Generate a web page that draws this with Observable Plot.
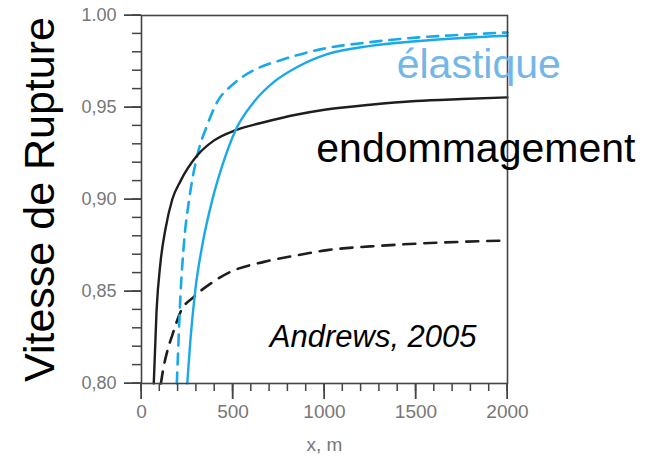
<!DOCTYPE html>
<html><head><meta charset="utf-8">
<script src="https://cdn.jsdelivr.net/npm/d3@7"></script>
<script src="https://cdn.jsdelivr.net/npm/@observablehq/plot@0.6"></script>
<style>
html,body{margin:0;padding:0;background:#fff;}
#chart{color:#444;}
#chart svg{font-family:'Liberation Sans', Arial, sans-serif;}
#chart svg g[aria-label="x-axis tick label"], #chart svg g[aria-label="y-axis tick label"]{fill:#777;}
</style>
</head><body><div id="chart"></div>
<script>
// Series: [x (m), rupture velocity]
const endoSolid = [[67,0.800],[82,0.839],[104,0.866],[131,0.884],[168,0.900],[213,0.910],[305,0.924],[395,0.932],[514,0.9377],[669,0.942],[851,0.9462],[1000,0.9488],[1250,0.9515],[1500,0.9535],[1750,0.9546],[2000,0.9555]];
const endoDashed = [[106,0.800],[120,0.8085],[140,0.8172],[168,0.8262],[213,0.8389],[286,0.8471],[377,0.8543],[487,0.8607],[669,0.8661],[851,0.8697],[1015,0.8725],[1250,0.8745],[1500,0.876],[1750,0.877],[2000,0.8777]];
const elasSolid = [[250,0.800],[268,0.8245],[295,0.8516],[332,0.875],[390,0.901],[440,0.918],[514,0.9377],[614,0.953],[724,0.9639],[851,0.972],[1015,0.979],[1250,0.9835],[1500,0.986],[1750,0.9878],[2000,0.989]];
const elasDashed = [[193,0.800],[197,0.810],[213,0.848],[231,0.875],[262,0.901],[305,0.924],[359,0.9404],[414,0.953],[505,0.963],[633,0.9712],[760,0.9757],[997,0.982],[1250,0.9855],[1500,0.988],[1750,0.9895],[2000,0.9908]];

const xMajor = [0, 500, 1000, 1500, 2000];
const xTickLabels = ["0", "500", "1000", "1500", "2000"];
const yMajor = [0.80, 0.85, 0.90, 0.95, 1.00];
const yTickLabels = ["0,80", "0,85", "0,90", "0,95", "1.00"];
const xMinor = d3.range(0, 2001, 100);
const yMinor = d3.range(80, 101, 1).map(d => d / 100);

const yTitle = "Vitesse de Rupture";
const xTitle = "x, m";
const labelElastique = "élastique";
const labelEndo = "endommagement";
const citation = "Andrews, 2005";

const blue = "#1aa9e8";
const black = "#1e1e1e";
const axisCol = "#444";
const tickText = "#777";

const chart = Plot.plot({
  width: 671, height: 458,
  marginLeft: 141, marginRight: 164, marginTop: 15, marginBottom: 75,
  x: {domain: [0, 2000]},
  y: {domain: [0.80, 1.00]},
  marks: [
    Plot.axisX({ticks: xMajor, tickSize: 16, tickPadding: 5, fontSize: 19,
      tickFormat: d => xTickLabels[xMajor.indexOf(d)], label: null}),
    Plot.axisY({ticks: yMajor, tickSize: 17, tickPadding: 8, fontSize: 18,
      tickFormat: d => yTickLabels[yMajor.indexOf(d)], label: null}),
    Plot.line(endoDashed, {x: d => d[0], y: d => d[1], stroke: black, strokeWidth: 2.6, strokeDasharray: "12,9", curve: "monotone-x"}),
    Plot.line(elasDashed, {x: d => d[0], y: d => d[1], stroke: blue, strokeWidth: 2.6, strokeDasharray: "11,8", curve: "monotone-x"}),
    Plot.line(endoSolid, {x: d => d[0], y: d => d[1], stroke: black, strokeWidth: 2.4, curve: "monotone-x"}),
    Plot.line(elasSolid, {x: d => d[0], y: d => d[1], stroke: blue, strokeWidth: 2.4, curve: "monotone-x"}),
    Plot.frame({stroke: axisCol, strokeWidth: 1.6}),
    Plot.text([labelElastique], {x: 1843, y: 0.9659, text: d => d, fontSize: 41, fill: "#74b6e8", textAnchor: "middle", lineAnchor: "bottom"}),
    Plot.text([labelEndo], {x: 1827, y: 0.9203, text: d => d, fontSize: 41, fill: "#000", textAnchor: "middle", lineAnchor: "bottom"}),
    Plot.text([citation], {x: 1266, y: 0.8199, text: d => d, fontSize: 31, fontStyle: "italic", fill: "#000", textAnchor: "middle", lineAnchor: "bottom"}),
    Plot.text([yTitle], {frameAnchor: "left", dx: -101, rotate: -90, text: d => d, fontSize: 43, fill: "#000", textAnchor: "middle", lineAnchor: "middle"}),
    Plot.text([xTitle], {frameAnchor: "bottom", dy: 67, text: d => d, fontSize: 19, fill: tickText, textAnchor: "middle", lineAnchor: "bottom"})
  ]
});
document.getElementById("chart").appendChild(chart);

// Outward tick marks placed through Plot's own x / y scales
try {
  const sx = chart.scale("x"), sy = chart.scale("y");
  const yBase = sy.apply(0.80), xBase = sx.apply(0);
  const g = d3.select(chart).append("g")
    .attr("stroke", axisCol).attr("stroke-width", 1.5).attr("fill", "none");
  const addX = (vals, len) => vals.forEach(v => {
    const px = sx.apply(v);
    g.append("line").attr("x1", px).attr("x2", px).attr("y1", yBase).attr("y2", yBase + len);
  });
  const addY = (vals, len) => vals.forEach(v => {
    const py = sy.apply(v);
    g.append("line").attr("x1", xBase).attr("x2", xBase - len).attr("y1", py).attr("y2", py);
  });
  addX(xMinor, 8); addX(xMajor, 16);
  addY(yMinor, 9); addY(yMajor, 17);
} catch (e) { console.error(e); }
</script>
</body></html>
